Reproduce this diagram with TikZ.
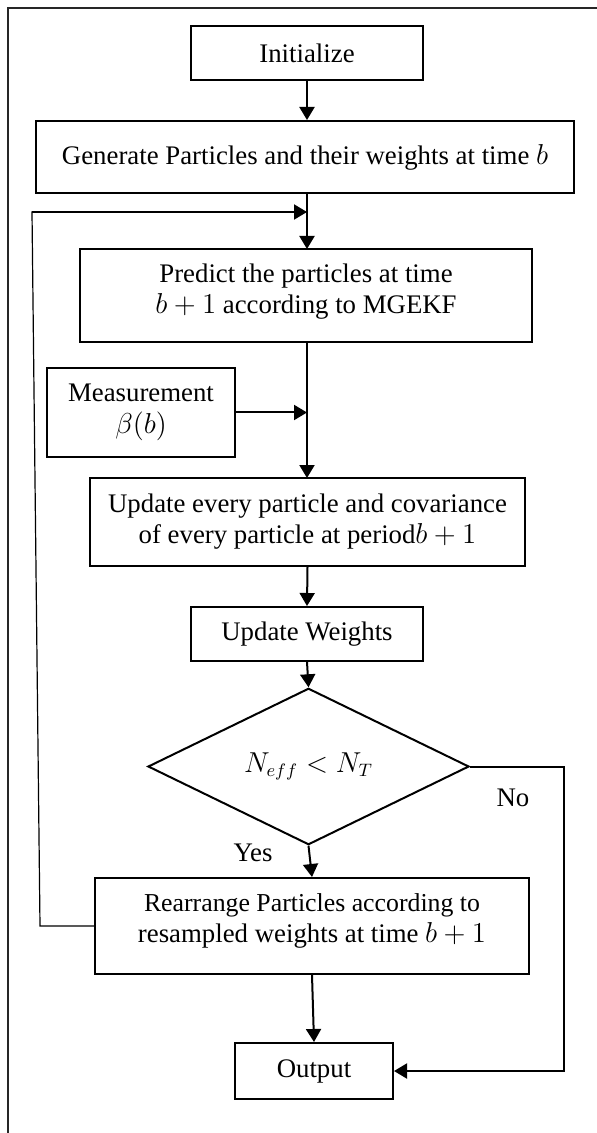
\documentclass[tikz,border=0pt]{standalone}
\usepackage{fontspec}
\setmainfont{Liberation Serif}
\usetikzlibrary{arrows.meta,shapes.geometric,calc}
\begin{document}
\begin{tikzpicture}[x=0.5pt,y=-0.5pt,
  box/.style={draw,line width=1pt,align=center,inner sep=0pt,font=\fontsize{13.4}{15.5}\selectfont},
  arr/.style={line width=1pt,-{Triangle[length=6.5pt,width=7.5pt]}},
  thinline/.style={line width=0.6pt},
  lbl/.style={font=\fontsize{13.4}{15.5}\selectfont,inner sep=0pt}]
\useasboundingbox (0,0) rectangle (597,1133);
% frame (only top and left edges visible)
\draw[line width=1pt,black!85] (8,1133) -- (8,8) -- (597,8);

\node[box,minimum width=116pt,minimum height=27pt] (init) at (307,53) {Initialize};
\node[box,minimum width=269pt,minimum height=36pt] (gen) at (305,157) {Generate Particles and their weights at time $b$};
\node[box,minimum width=226pt,minimum height=46.5pt,text depth=6.5pt] (pred) at (306,295.5) {Predict the particles at time\\$b+1$ according to MGEKF};
\node[box,minimum width=94pt,minimum height=44.5pt] (meas) at (141,412.5) {Measurement\\[0.5pt]$\beta(b)$};
\node[box,minimum width=217.5pt,minimum height=44pt] (upd) at (307.5,522) {Update every particle and covariance\\of every particle at period$b+1$};
\node[box,minimum width=115.75pt,minimum height=27pt] (uw) at (307,634) {Update Weights};
\node[box,diamond,minimum width=160.5pt,minimum height=57.5pt] (dec) at (308.5,766.5) {$N_{eff}<N_T$};
\node[box,minimum width=217pt,minimum height=48pt,text depth=7.5pt] (rear) at (312,926) {{\fontsize{12.9}{15.5}\selectfont Rearrange Particles according to}\\resampled weights at time $b+1$};
\node[box,minimum width=79pt,minimum height=28pt] (out) at (314,1071) {Output};

\node[lbl] (no) at (513,798) {No};
\node[lbl] (yes) at (253,853) {Yes};

\coordinate (lpA) at (40,926);
\coordinate (lpB) at (32,212);
\coordinate (lpJ) at (307,212);
\coordinate (mj) at (307,412.5);
\coordinate (nc) at (564,766.5);

\draw[arr] (init.south) -- (init.south |- gen.north);
\draw[line width=1pt] (307,193) -- (lpJ);
\draw[arr] (lpJ) -- (307,249);
\draw[thinline] (rear.west) -- (lpA) -- (lpB) -- (lpJ);
\draw[arr] (lpB) -- (lpJ);
\draw[line width=1pt] (307,342) -- (mj);
\draw[arr] (meas.east) -- (mj);
\draw[arr] (mj) -- (307,478);
\draw[arr] (upd.south) -- (uw.north);
\draw[arr] (uw.south) -- (dec.north);
\draw[arr] (dec.south) -- (rear.north);
\draw[arr] (rear.south) -- (out.north);
\draw[arr] (dec.east) -- (nc) |- (out.east);
\end{tikzpicture}
\end{document}
